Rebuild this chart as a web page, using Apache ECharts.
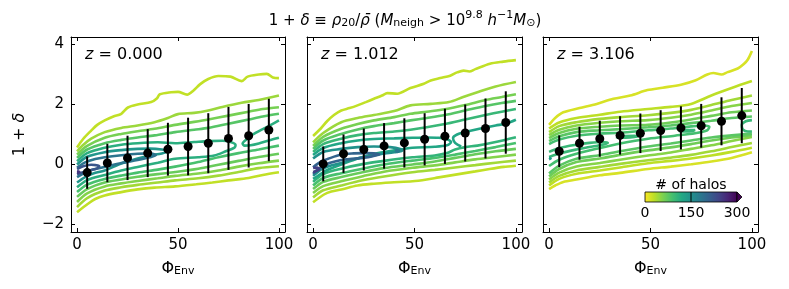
<!DOCTYPE html>
<html><head><meta charset="utf-8">
<script src="https://cdn.jsdelivr.net/npm/echarts@6/dist/echarts.min.js"></script>
<style>html,body{margin:0;padding:0;background:#fff}#c{width:789px;height:289px}</style>
</head><body><div id="c"></div>
<script>
// ---------------- data ----------------
const phiBins = [5,15,25,35,45,55,65,75,85,95];
const redshifts = ['0.000','1.012','3.106'];
const mean1 = [-0.27,0.05,0.22,0.38,0.51,0.60,0.71,0.87,0.96,1.15];
const err1  = [0.54,0.64,0.74,0.80,0.88,0.96,1.00,1.05,1.06,1.04];
const mean2 = [0.02,0.36,0.50,0.62,0.72,0.84,0.94,1.05,1.20,1.40];
const err2  = [0.58,0.64,0.70,0.76,0.82,0.87,0.92,0.95,1.00,1.04];
const mean3 = [0.44,0.71,0.86,0.97,1.04,1.13,1.22,1.29,1.44,1.63];
const err3  = [0.53,0.55,0.60,0.64,0.66,0.68,0.72,0.73,0.80,0.92];
const xTicks = [0,50,100];
const yTicks = [-2,0,2,4];
const cbTicks = [0,150,300];

// contour lines (x = Phi_Env, y = 1+delta), one level value (# of halos) per line
const p1Lines = [
 [[0,0.57],[3,0.85],[7,1.13],[10,1.32],[13.7,1.47],[18,1.6],[21.9,1.69],[25.2,1.9],[30,2.0],[36.7,2.08],[39.5,2.2],[41,2.34],[46.6,2.41],[50,2.42],[54.5,2.33],[57.7,2.47],[61,2.68],[65,2.85],[70,2.95],[76,2.93],[81.5,2.78],[84.5,2.93],[90,3.0],[94,3.02],[97,2.9],[100,2.88]],
 [[0,-1.59],[5.4,-1.31],[9,-1.15],[13.7,-1.03],[21.9,-0.92],[30,-0.83],[38.4,-0.77],[48.6,-0.73],[59,-0.66],[67,-0.6],[75,-0.53],[85,-0.45],[92,-0.35],[100,-0.26]],
 [[0,0.44],[3,0.65],[7,0.86],[13.7,1.08],[21.9,1.22],[30,1.3],[38.4,1.41],[45,1.55],[50,1.68],[58,1.72],[65,1.8],[72,1.92],[81.5,2.06],[90,2.15],[100,2.3]],
 [[0,-1.42],[5,-1.12],[13.7,-0.87],[21.9,-0.76],[30,-0.68],[40,-0.6],[48.6,-0.53],[60,-0.46],[70,-0.37],[80,-0.25],[90,-0.12],[100,-0.06]],
 [[0,0.33],[5,0.62],[13.7,0.89],[21.9,1.02],[30,1.11],[38.4,1.19],[48.6,1.32],[58,1.42],[65,1.5],[75,1.63],[85,1.76],[92,1.85],[100,1.91]],
 [[0,-1.25],[5,-0.96],[13.7,-0.73],[21.9,-0.63],[30,-0.55],[40,-0.46],[48.6,-0.38],[60,-0.3],[70,-0.2],[80,-0.07],[90,0.04],[100,0.13]],
 [[0,0.22],[5,0.5],[13.7,0.71],[21.9,0.82],[30,0.9],[38.4,0.97],[48.6,1.08],[58,1.16],[65,1.22],[75,1.36],[85,1.5],[92,1.6],[100,1.69]],
 [[0,-1.08],[5,-0.82],[13.7,-0.6],[21.9,-0.5],[30,-0.41],[40,-0.32],[48.6,-0.25],[60,-0.14],[70,-0.01],[80,0.12],[90,0.25],[100,0.36]],
 [[0,-0.92],[5,-0.67],[13.7,-0.48],[21.9,-0.37],[30,-0.27],[40,-0.17],[48.6,-0.07],[60,0.08],[70,0.24],[80,0.38],[90,0.5],[100,0.63]],
 [[0,0.11],[5,0.38],[13.7,0.56],[21.9,0.66],[30,0.71],[40,0.74],[48.6,0.71],[58,0.75],[65,0.78],[72,0.79],[76,0.75],[78.5,0.65],[78,0.56],[74,0.45],[68,0.3],[60,0.24],[48.6,0.19],[40,0.06],[30,-0.08],[21.9,-0.2],[13.7,-0.35],[5,-0.52],[0,-0.76]],
 [[100,1.47],[96,1.32],[92,1.18],[87,1.0],[84,0.84],[82,0.7],[83,0.63],[86,0.64],[90,0.7],[95,0.8],[100,0.89]],
 [[0,0.0],[5,0.26],[13.7,0.41],[21.9,0.48],[30,0.52],[36,0.53],[42,0.5],[45,0.44],[42,0.37],[36,0.3],[30,0.2],[21.9,0.03],[13.7,-0.2],[8,-0.3],[4,-0.42],[0,-0.6]],
 [[0,-0.1],[4,0.07],[9,0.18],[13.7,0.24],[22,0.31],[30,0.36],[36,0.37],[39,0.31],[36,0.24],[30,0.15],[22,0.05],[13.7,-0.08],[8,-0.17],[4,-0.27],[0,-0.42]],
 [[0,-0.15],[3,-0.06],[7,-0.01],[11,-0.05],[10,-0.13],[6,-0.2],[3,-0.26],[0,-0.33]],
 [[0,-0.22],[1.2,-0.25],[0,-0.28]]
];
const p1Levels = [28,28,45,42,62,56,80,70,88,112,112,145,185,220,255];

const p2Lines = [
 [[0,0.95],[3.8,1.2],[7,1.45],[10.3,1.65],[13.9,1.8],[18,1.88],[21.9,1.97],[26,2.08],[30,2.19],[34,2.3],[36.6,2.38],[41.5,2.36],[48,2.55],[54.6,2.69],[58,2.8],[62.7,2.88],[67.6,2.96],[71,3.07],[74.2,3.13],[77,3.1],[80,3.18],[87.2,3.36],[93.8,3.43],[100,3.48]],
 [[0,-1.26],[5.4,-1.0],[9,-0.9],[13.9,-0.83],[21.9,-0.7],[30,-0.64],[38.2,-0.6],[49,-0.56],[56,-0.5],[62,-0.43],[71,-0.33],[80,-0.23],[87,-0.15],[94,-0.08],[100,-0.04]],
 [[0,0.74],[5,1.05],[13.9,1.41],[22,1.55],[30,1.65],[40,1.78],[48,1.97],[58,2.02],[67,2.08],[74,2.25],[81,2.41],[90,2.6],[100,2.75]],
 [[0,-1.1],[5,-0.86],[13.9,-0.7],[25,-0.52],[35,-0.4],[49,-0.26],[60,-0.18],[70,-0.1],[80,-0.02],[90,0.06],[100,0.13]],
 [[0,0.62],[5,0.92],[13.9,1.19],[22,1.35],[30,1.47],[40,1.58],[48,1.69],[56,1.76],[65,1.84],[75,1.98],[85,2.15],[93,2.25],[100,2.34]],
 [[0,-0.95],[5,-0.72],[13.9,-0.56],[25,-0.38],[35,-0.24],[49,-0.11],[60,-0.03],[70,0.07],[80,0.17],[90,0.25],[100,0.33]],
 [[0,0.52],[5,0.8],[13.9,1.02],[22,1.17],[30,1.28],[40,1.38],[48,1.47],[56,1.55],[65,1.65],[75,1.8],[85,1.95],[93,2.05],[100,2.12]],
 [[0,-0.82],[5,-0.58],[13.9,-0.42],[25,-0.25],[35,-0.12],[49,0.0],[60,0.1],[70,0.22],[80,0.34],[90,0.44],[100,0.52]],
 [[0,0.42],[5,0.68],[13.9,0.86],[22,0.98],[30,1.05],[40,1.1],[48,1.16],[56,1.24],[65,1.35],[75,1.5],[85,1.65],[93,1.76],[100,1.85]],
 [[0,-0.7],[5,-0.45],[13.9,-0.29],[25,-0.13],[35,0.0],[49,0.13],[60,0.22],[70,0.33],[80,0.45],[90,0.58],[100,0.72]],
 [[0,-0.58],[5,-0.32],[13.9,-0.14],[25,0.02],[35,0.12],[49,0.24],[60,0.3],[66,0.38],[70,0.5],[75,0.58],[81,0.63],[90,0.75],[100,0.91]],
 [[0,0.32],[5,0.55],[13.9,0.71],[22,0.8],[30,0.85],[40,0.87],[49,0.89],[56,0.9],[62,0.89],[66,0.84],[68,0.74],[66,0.64],[60,0.59],[49,0.56],[40,0.47],[30,0.35],[22,0.2],[13.9,0.0],[8,-0.15],[4,-0.3],[0,-0.48]],
 [[100,1.49],[95,1.36],[90,1.3],[82,1.19],[75,1.08],[71,1.0],[69,0.88],[70,0.72],[73,0.6]],
 [[0,0.2],[5,0.42],[13.9,0.52],[22,0.58],[30,0.6],[38,0.58],[43,0.52],[44,0.46],[40,0.41],[33,0.34],[25,0.25],[18,0.14],[13.9,0.05],[8,-0.05],[4,-0.16],[0,-0.38]],
 [[0,-0.09],[4,0.1],[7.4,0.19],[13.9,0.33],[20,0.37],[25.3,0.38],[30,0.37],[32.7,0.33],[29,0.27],[25.3,0.23],[18,0.18],[13.9,0.15],[8,0.05],[5.7,-0.03],[2,-0.18],[0,-0.31]],
 [[0,-0.12],[2,-0.1],[3,-0.17],[1.5,-0.22],[0,-0.25]],
 [[40.5,0.45],[41.4,0.48],[42.3,0.45],[41.4,0.42],[40.5,0.45]]
];
const p2Levels = [28,28,45,42,62,56,80,70,100,88,105,122,122,150,205,245,180];

const p3X = [0,5,13.5,25,35,48.8,60,70,80,90,100];
const p3Top = [[0,1.32],[3,1.55],[7,1.74],[15,1.88],[23.5,2.02],[31.7,2.19],[40,2.3],[48.5,2.48],[56,2.56],[65,2.66],[72,2.8],[78,3.0],[81,3.05],[85,3.0],[88,3.08],[93,3.2],[96,3.35],[98,3.5],[100,3.78]];
const p3Bottom = [[0,-0.82],[3,-0.7],[7,-0.58],[13.5,-0.5],[25,-0.36],[35,-0.28],[48.8,-0.15],[60,-0.07],[70,0.01],[80,0.1],[90,0.22],[100,0.41]];
const p3Upper = [
 [1.2,1.4,1.55,1.66,1.76,1.85,1.92,2.02,2.3,2.55,2.78],
 [1.08,1.28,1.41,1.52,1.58,1.64,1.72,1.82,1.98,2.15,2.3],
 [0.98,1.16,1.3,1.39,1.44,1.48,1.56,1.66,1.8,1.95,2.05],
 [0.88,1.05,1.19,1.26,1.3,1.32,1.4,1.5,1.62,1.74,1.8],
 [0.78,0.94,1.08,1.14,1.18,1.24,1.3,1.38,1.46,1.55,1.6]
];
const p3Lower = [
 [-0.7,-0.48,-0.31,-0.2,-0.1,0.04,0.12,0.2,0.3,0.42,0.56],
 [-0.6,-0.38,-0.2,-0.08,0.02,0.14,0.23,0.32,0.44,0.58,0.72],
 [-0.5,-0.27,-0.07,0.05,0.16,0.3,0.4,0.52,0.64,0.78,0.92],
 [-0.4,-0.15,0.08,0.2,0.32,0.47,0.57,0.68,0.8,0.9,0.98],
 [-0.3,-0.04,0.19,0.31,0.44,0.6,0.7,0.8,0.9,0.97,1.03]
];
const p3BandLevels = [30,42,54,66,78];
const p3Loops = [
 [[0,0.68],[5,0.83],[13.5,0.96],[25,1.03],[35,1.06],[48.8,1.14],[60,1.2],[70,1.27],[76,1.3],[79,1.26],[78,1.14],[72,1.04],[62,0.96],[48.8,0.86],[35,0.7],[25,0.55],[13.5,0.36],[5,0.16],[0,-0.05]],
 [[0,0.42],[5,0.55],[13.5,0.66],[20,0.72],[26,0.75],[29,0.72],[25,0.64],[18,0.56],[13.5,0.5],[6,0.38],[0,0.25]],
 [[33,0.92],[37,0.95],[42,0.96],[44,0.93],[40,0.9],[35,0.89],[33,0.92]],
 [[64,1.12],[68,1.15],[72,1.15],[70,1.11],[65,1.1],[64,1.12]],
 [[100,1.48],[97,1.44],[95,1.32],[95.5,1.17],[98,1.1],[100,1.1]],
 [[0,0.17],[0.8,0.2],[0,0.23]]
];
const p3LoopLevels = [90,100,100,100,100,140];

// ---------------- helpers ----------------
const ff = 'DejaVu Sans';
const VIR = ['#440154','#482475','#414487','#355f8d','#2a788e','#21918c','#22a884','#44bf70','#7ad151','#bddf26','#fde725'];
function h2r(h){return [1,3,5].map(i=>parseInt(h.substr(i,2),16));}
function viridis(t){
  t=Math.max(0,Math.min(1,t));
  const s=t*10,i=Math.min(9,Math.floor(s)),f=s-i,a=h2r(VIR[i]),b=h2r(VIR[i+1]);
  return 'rgb('+[0,1,2].map(k=>Math.round(a[k]+(b[k]-a[k])*f)).join(',')+')';
}
const lvColor = v => viridis(1 - v/300);
const zip = (X, ys) => X.map((x,i)=>[x, ys[i]]);

const p3Lines = [p3Top, p3Bottom];
const p3Levels = [18,18];
p3Upper.forEach((ys,i)=>{p3Lines.push(zip(p3X,ys)); p3Levels.push(p3BandLevels[i]);});
p3Lower.forEach((ys,i)=>{p3Lines.push(zip(p3X,ys)); p3Levels.push(p3BandLevels[i]);});
p3Loops.forEach((l,i)=>{p3Lines.push(l); p3Levels.push(p3LoopLevels[i]);});

const panels = [
  {lines:p1Lines, levels:p1Levels, mean:mean1, err:err1},
  {lines:p2Lines, levels:p2Levels, mean:mean2, err:err2},
  {lines:p3Lines, levels:p3Levels, mean:mean3, err:err3}
];
const gridLefts = [71,307,543];
const gridWidths = [214,215,215];

const richBase = {
  n:{fontSize:16,fontFamily:ff,fontWeight:'normal',color:'#000',lineHeight:20,verticalAlign:'bottom'},
  i:{fontSize:16,fontFamily:ff,fontWeight:'normal',fontStyle:'italic',color:'#000',lineHeight:20,verticalAlign:'bottom'},
  s:{fontSize:11,fontFamily:ff,fontWeight:'normal',color:'#000',lineHeight:8,verticalAlign:'bottom'}
};

const grids=[], xAxes=[], yAxes=[], series=[], graphics=[];
panels.forEach((p,g)=>{
  grids.push({left:gridLefts[g], top:37, width:gridWidths[g], height:195});
  const tickStyle = {show:true,inside:true,length:4,lineStyle:{color:'#000',width:1}};
  const lineStyle = {show:true,onZero:false,lineStyle:{color:'#000',width:1}};
  xAxes.push({gridIndex:g,type:'value',min:-3,max:103,position:'bottom',
    axisLine:lineStyle, axisTick:Object.assign({customValues:xTicks},tickStyle),
    axisLabel:{customValues:xTicks,color:'#000',fontSize:15,fontFamily:ff,margin:6},
    splitLine:{show:false},
    name:'{n|Φ}{s|Env}', nameLocation:'middle', nameGap:25,
    nameTextStyle:{rich:richBase}});
  xAxes.push({gridIndex:g,type:'value',min:-3,max:103,position:'top',
    axisLine:lineStyle, axisTick:Object.assign({customValues:xTicks},tickStyle),
    axisLabel:{show:false}, splitLine:{show:false}});
  yAxes.push({gridIndex:g,type:'value',min:-2.25,max:4.25,position:'left',
    axisLine:lineStyle, axisTick:Object.assign({customValues:yTicks},tickStyle),
    axisLabel:{show:g===0,customValues:yTicks,color:'#000',fontSize:15,fontFamily:ff,margin:7,
      formatter:v=>v<0?'\u2212'+(-v):String(v)},
    splitLine:{show:false},
    name: g===0 ? '{n|1 + }{i|δ}' : '', nameLocation:'middle', nameGap:43, nameRotate:90,
    nameTextStyle:{rich:richBase}});
  yAxes.push({gridIndex:g,type:'value',min:-2.25,max:4.25,position:'right',
    axisLine:lineStyle, axisTick:Object.assign({customValues:yTicks},tickStyle),
    axisLabel:{show:false}, splitLine:{show:false}});
  const xi = g*2, yi = g*2;
  p.lines.forEach((pts,k)=>{
    series.push({type:'line',xAxisIndex:xi,yAxisIndex:yi,data:pts,symbol:'none',smooth:0.3,
      silent:true,z:2,lineStyle:{color:lvColor(p.levels[k]),width:2.6}});
  });
  series.push({type:'custom',xAxisIndex:xi,yAxisIndex:yi,z:4,silent:true,
    data:phiBins.map((x,k)=>[x,p.mean[k],p.err[k]]),
    renderItem:(params,api)=>{
      const x=api.value(0),y=api.value(1),e=api.value(2);
      const a=api.coord([x,y-e]), b=api.coord([x,y+e]);
      return {type:'line',shape:{x1:a[0],y1:a[1],x2:b[0],y2:b[1]},style:{stroke:'#000',lineWidth:2}};
    }});
  series.push({type:'scatter',xAxisIndex:xi,yAxisIndex:yi,z:5,silent:true,symbolSize:9,
    itemStyle:{color:'#000',opacity:1},data:phiBins.map((x,k)=>[x,p.mean[k]])});
  graphics.push({type:'text',x:gridLefts[g]+14,y:55,z:10,style:{
    text:'{i|z}{n| = '+redshifts[g]+'}', verticalAlign:'middle',
    rich:{n:{fontSize:16,fontFamily:ff,fill:'#000'},i:{fontSize:16,fontFamily:ff,fontStyle:'italic',fill:'#000'}}}});
});

// colorbar (# of halos)
const cbX=645, cbY=192, cbW=92, cbH=10;
const stops=[]; for(let k=0;k<=10;k++) stops.push({offset:k/10,color:viridis(1-k/10)});
graphics.push({type:'rect',z:10,shape:{x:cbX,y:cbY,width:cbW,height:cbH},
  style:{fill:new echarts.graphic.LinearGradient(0,0,1,0,stops),stroke:'#000',lineWidth:0.8}});
graphics.push({type:'polygon',z:10,shape:{points:[[cbX+cbW,cbY],[cbX+cbW+5,cbY+cbH/2],[cbX+cbW,cbY+cbH]]},
  style:{fill:viridis(0),stroke:'#000',lineWidth:0.8}});
cbTicks.forEach(v=>{
  const x=cbX+cbW*v/300;
  if(v>0&&v<300) graphics.push({type:'line',z:11,shape:{x1:x,y1:cbY,x2:x,y2:cbY+cbH},style:{stroke:'#000',lineWidth:1}});
  graphics.push({type:'text',z:11,x:x,y:cbY+cbH+11,style:{text:String(v),fontSize:14,fontFamily:ff,fill:'#000',align:'center',verticalAlign:'middle'}});
});
graphics.push({type:'text',z:11,x:cbX+cbW/2,y:cbY-7,style:{text:'# of halos',fontSize:14,fontFamily:ff,fill:'#000',align:'center',verticalAlign:'middle'}});

const tRich = {
  n:{fontSize:15,fontFamily:ff,fontWeight:'normal',color:'#000',lineHeight:19,verticalAlign:'bottom'},
  i:{fontSize:15,fontFamily:ff,fontWeight:'normal',fontStyle:'italic',color:'#000',lineHeight:19,verticalAlign:'bottom'},
  s:{fontSize:11,fontFamily:ff,fontWeight:'normal',color:'#000',lineHeight:7,verticalAlign:'bottom'},
  p:{fontSize:11,fontFamily:ff,fontWeight:'normal',color:'#000',lineHeight:12,verticalAlign:'top'}
};

const chart = echarts.init(document.getElementById('c'),null,{renderer:'canvas'});
chart.setOption({
  animation:false,
  backgroundColor:'#fff',
  title:{left:400,textAlign:'center',top:5,
    text:'{n|1 + }{i|δ}{n| ≡ }{i|ρ}{s|20}{n|/}{i|ρ̄}{n| (}{i|M}{s|neigh}{n| > 10}{p|9.8}{n| }{i|h}{p|−1}{i|M}{s|⊙}{n|)}',
    textStyle:{fontWeight:'normal',rich:tRich}},
  grid:grids, xAxis:xAxes, yAxis:yAxes, series:series, graphic:graphics
});
</script></body></html>
